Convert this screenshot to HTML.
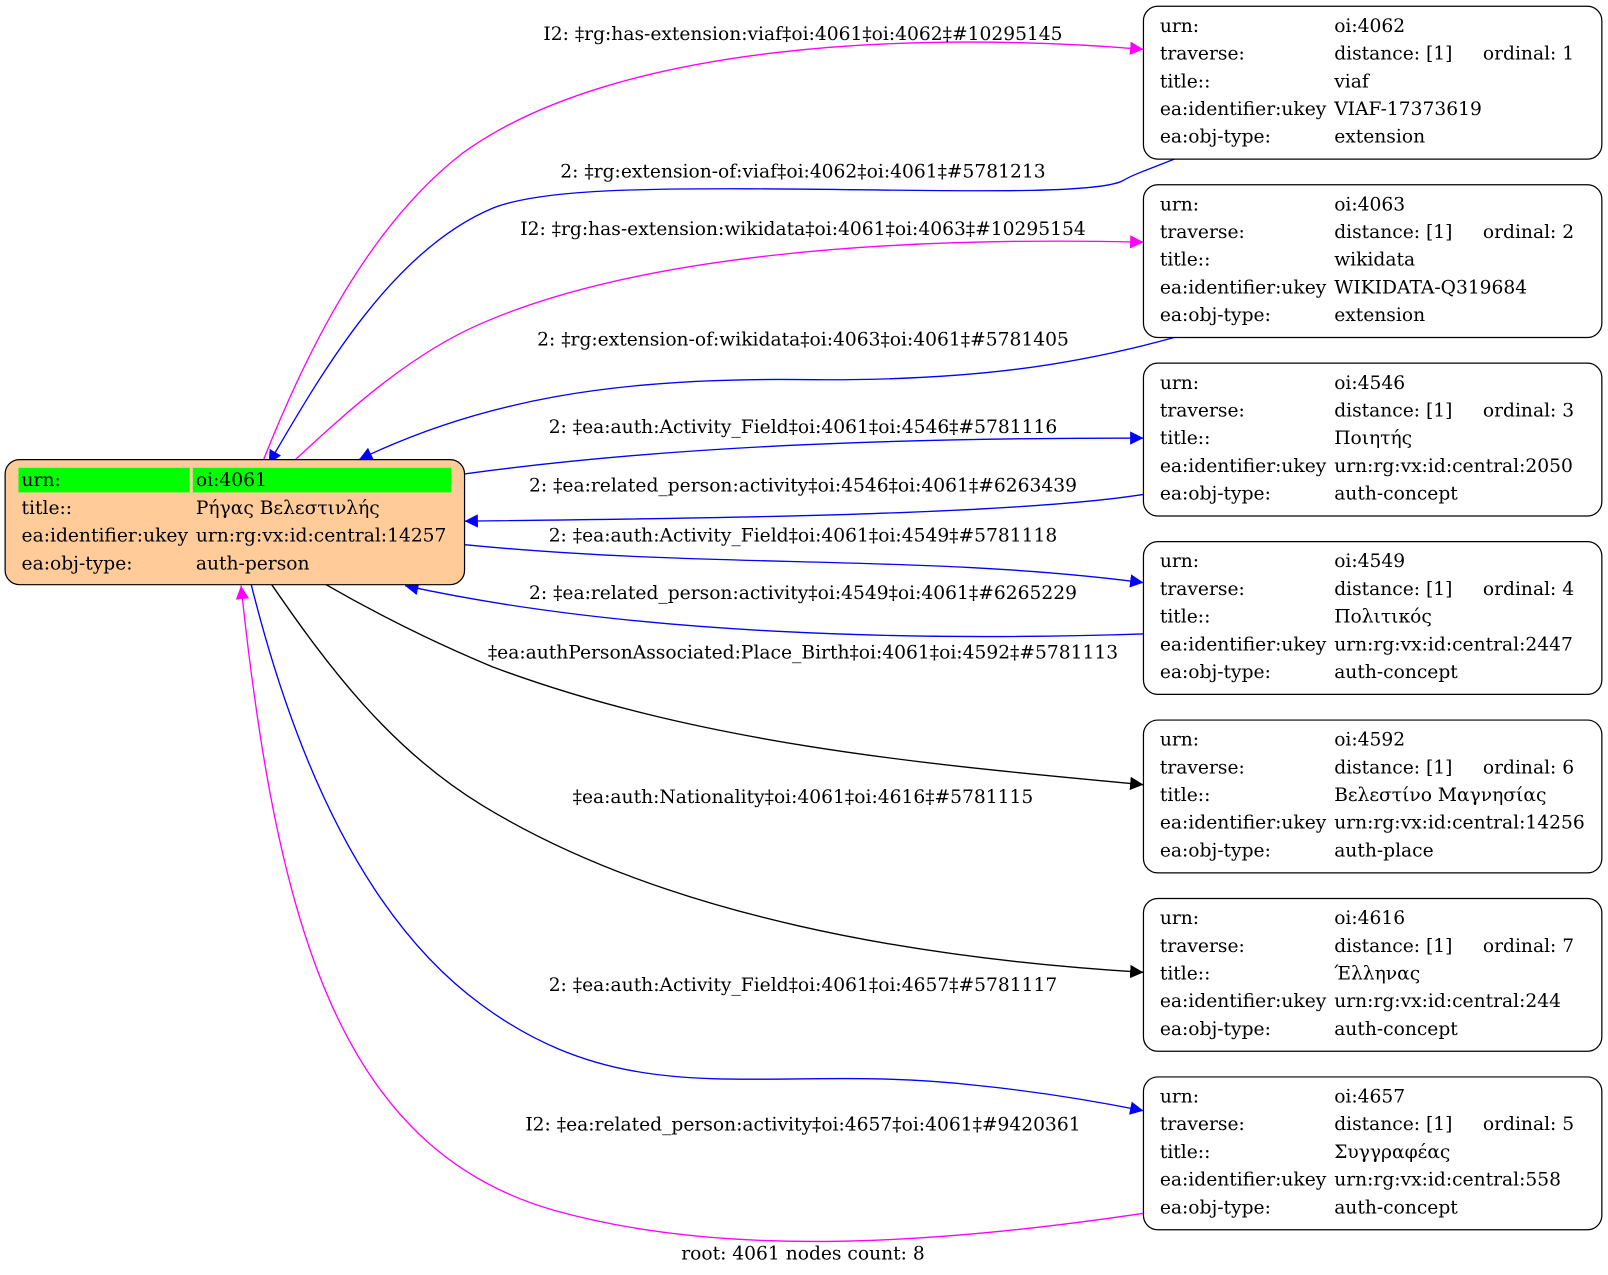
<!DOCTYPE html>
<html><head><meta charset="utf-8"><style>
html,body{margin:0;padding:0;background:#fff;}
svg{display:block;}
text{font-family:"DejaVu Serif","Liberation Serif",serif;font-size:18.2px;fill:#000;}
</style></head><body>
<svg width="1608" height="1275" viewBox="0 0 1568 1243" xmlns="http://www.w3.org/2000/svg">
<defs>
<marker id="ab" viewBox="0 0 10 10" refX="10" refY="5" markerWidth="13" markerHeight="13" markerUnits="userSpaceOnUse" orient="auto"><path d="M0,0L10,5L0,10z" fill="#0000ff"/></marker>
<marker id="am" viewBox="0 0 10 10" refX="10" refY="5" markerWidth="13" markerHeight="13" markerUnits="userSpaceOnUse" orient="auto"><path d="M0,0L10,5L0,10z" fill="#ff00ff"/></marker>
<marker id="ak" viewBox="0 0 10 10" refX="10" refY="5" markerWidth="13" markerHeight="13" markerUnits="userSpaceOnUse" orient="auto"><path d="M0,0L10,5L0,10z" fill="#000"/></marker>
</defs>
<g fill="none" stroke-width="1.3">
<path d="M257,448 C300,340 360,220 450,150 C600,40 900,30 1115,48" stroke="#ff00ff" marker-end="url(#am)"/>
<path d="M1145,155 C1120,165 1105,170 1095,176 C1060,195 800,180 620,185 C540,187 500,195 480,203 C380,245 310,370 262,452" stroke="#0000ff" marker-end="url(#ab)"/>
<path d="M288,448 C340,400 400,345 470,315 C620,250 860,230 1115,236" stroke="#ff00ff" marker-end="url(#am)"/>
<path d="M1145,329 C1050,355 950,372 780,370 C600,368 470,390 350,448" stroke="#0000ff" marker-end="url(#ab)"/>
<path d="M453,462 C650,435 870,427 1115,427" stroke="#0000ff" marker-end="url(#ab)"/>
<path d="M1115,482 C1000,500 750,505 453,508" stroke="#0000ff" marker-end="url(#ab)"/>
<path d="M453,531 C700,555 900,540 1115,568" stroke="#0000ff" marker-end="url(#ab)"/>
<path d="M1115,618 C900,625 620,620 395,571" stroke="#0000ff" marker-end="url(#ab)"/>
<path d="M318,570 C370,600 420,625 480,650 C680,725 900,745 1115,765" stroke="#000" marker-end="url(#ak)"/>
<path d="M265,570 C320,650 380,730 470,785 C650,895 900,935 1115,948" stroke="#000" marker-end="url(#ak)"/>
<path d="M245,570 C290,750 360,900 470,980 C620,1090 750,1035 950,1058 C1000,1063 1060,1072 1115,1083" stroke="#0000ff" marker-end="url(#ab)"/>
<path d="M1115,1183 C900,1215 700,1225 540,1180 C330,1120 270,900 235,571" stroke="#ff00ff" marker-end="url(#am)"/>
</g>
<g text-anchor="middle">
<text x="783" y="39">I2: ‡rg:has-extension:viaf‡oi:4061‡oi:4062‡#10295145</text>
<text x="783" y="173">2: ‡rg:extension-of:viaf‡oi:4062‡oi:4061‡#5781213</text>
<text x="783" y="229">I2: ‡rg:has-extension:wikidata‡oi:4061‡oi:4063‡#10295154</text>
<text x="783" y="337">2: ‡rg:extension-of:wikidata‡oi:4063‡oi:4061‡#5781405</text>
<text x="783" y="422">2: ‡ea:auth:Activity_Field‡oi:4061‡oi:4546‡#5781116</text>
<text x="783" y="479">2: ‡ea:related_person:activity‡oi:4546‡oi:4061‡#6263439</text>
<text x="783" y="528">2: ‡ea:auth:Activity_Field‡oi:4061‡oi:4549‡#5781118</text>
<text x="783" y="584">2: ‡ea:related_person:activity‡oi:4549‡oi:4061‡#6265229</text>
<text x="783" y="642">‡ea:authPersonAssociated:Place_Birth‡oi:4061‡oi:4592‡#5781113</text>
<text x="783" y="783">‡ea:auth:Nationality‡oi:4061‡oi:4616‡#5781115</text>
<text x="783" y="966">2: ‡ea:auth:Activity_Field‡oi:4061‡oi:4657‡#5781117</text>
<text x="783" y="1102">I2: ‡ea:related_person:activity‡oi:4657‡oi:4061‡#9420361</text>
<text x="783" y="1228">root: 4061 nodes count: 8</text>
</g>
<rect x="5" y="448" width="448" height="122" rx="14" fill="#ffcc99" stroke="#000" stroke-width="1.2"/>
<rect x="18" y="456" width="167" height="24" fill="#00ff00"/>
<rect x="188" y="456" width="252" height="24" fill="#00ff00"/>
<text x="21" y="474">urn:</text><text x="191" y="474">oi:4061</text>
<text x="21" y="501">title::</text><text x="191" y="501">Ρήγας Βελεστινλής</text>
<text x="21" y="528">ea:identifier:ukey</text><text x="191" y="528">urn:rg:vx:id:central:14257</text>
<text x="21" y="555">ea:obj-type:</text><text x="191" y="555">auth-person</text>
<g>
<rect x="1115" y="6" width="447" height="149" rx="14" fill="#fff" stroke="#000" stroke-width="1.2"/>
<text x="1131" y="31">urn:</text><text x="1301" y="31">oi:4062</text>
<text x="1131" y="58">traverse:</text><text x="1301" y="58">distance: [1]</text><text x="1446" y="58">ordinal: 1</text>
<text x="1131" y="85">title::</text><text x="1301" y="85">viaf</text>
<text x="1131" y="112">ea:identifier:ukey</text><text x="1301" y="112">VIAF-17373619</text>
<text x="1131" y="139">ea:obj-type:</text><text x="1301" y="139">extension</text>
</g>
<g transform="translate(0,174)">
<rect x="1115" y="6" width="447" height="149" rx="14" fill="#fff" stroke="#000" stroke-width="1.2"/>
<text x="1131" y="31">urn:</text><text x="1301" y="31">oi:4063</text>
<text x="1131" y="58">traverse:</text><text x="1301" y="58">distance: [1]</text><text x="1446" y="58">ordinal: 2</text>
<text x="1131" y="85">title::</text><text x="1301" y="85">wikidata</text>
<text x="1131" y="112">ea:identifier:ukey</text><text x="1301" y="112">WIKIDATA-Q319684</text>
<text x="1131" y="139">ea:obj-type:</text><text x="1301" y="139">extension</text>
</g>
<g transform="translate(0,348)">
<rect x="1115" y="6" width="447" height="149" rx="14" fill="#fff" stroke="#000" stroke-width="1.2"/>
<text x="1131" y="31">urn:</text><text x="1301" y="31">oi:4546</text>
<text x="1131" y="58">traverse:</text><text x="1301" y="58">distance: [1]</text><text x="1446" y="58">ordinal: 3</text>
<text x="1131" y="85">title::</text><text x="1301" y="85">Ποιητής</text>
<text x="1131" y="112">ea:identifier:ukey</text><text x="1301" y="112">urn:rg:vx:id:central:2050</text>
<text x="1131" y="139">ea:obj-type:</text><text x="1301" y="139">auth-concept</text>
</g>
<g transform="translate(0,522)">
<rect x="1115" y="6" width="447" height="149" rx="14" fill="#fff" stroke="#000" stroke-width="1.2"/>
<text x="1131" y="31">urn:</text><text x="1301" y="31">oi:4549</text>
<text x="1131" y="58">traverse:</text><text x="1301" y="58">distance: [1]</text><text x="1446" y="58">ordinal: 4</text>
<text x="1131" y="85">title::</text><text x="1301" y="85">Πολιτικός</text>
<text x="1131" y="112">ea:identifier:ukey</text><text x="1301" y="112">urn:rg:vx:id:central:2447</text>
<text x="1131" y="139">ea:obj-type:</text><text x="1301" y="139">auth-concept</text>
</g>
<g transform="translate(0,696)">
<rect x="1115" y="6" width="447" height="149" rx="14" fill="#fff" stroke="#000" stroke-width="1.2"/>
<text x="1131" y="31">urn:</text><text x="1301" y="31">oi:4592</text>
<text x="1131" y="58">traverse:</text><text x="1301" y="58">distance: [1]</text><text x="1446" y="58">ordinal: 6</text>
<text x="1131" y="85">title::</text><text x="1301" y="85">Βελεστίνο Μαγνησίας</text>
<text x="1131" y="112">ea:identifier:ukey</text><text x="1301" y="112">urn:rg:vx:id:central:14256</text>
<text x="1131" y="139">ea:obj-type:</text><text x="1301" y="139">auth-place</text>
</g>
<g transform="translate(0,870)">
<rect x="1115" y="6" width="447" height="149" rx="14" fill="#fff" stroke="#000" stroke-width="1.2"/>
<text x="1131" y="31">urn:</text><text x="1301" y="31">oi:4616</text>
<text x="1131" y="58">traverse:</text><text x="1301" y="58">distance: [1]</text><text x="1446" y="58">ordinal: 7</text>
<text x="1131" y="85">title::</text><text x="1301" y="85">Έλληνας</text>
<text x="1131" y="112">ea:identifier:ukey</text><text x="1301" y="112">urn:rg:vx:id:central:244</text>
<text x="1131" y="139">ea:obj-type:</text><text x="1301" y="139">auth-concept</text>
</g>
<g transform="translate(0,1044)">
<rect x="1115" y="6" width="447" height="149" rx="14" fill="#fff" stroke="#000" stroke-width="1.2"/>
<text x="1131" y="31">urn:</text><text x="1301" y="31">oi:4657</text>
<text x="1131" y="58">traverse:</text><text x="1301" y="58">distance: [1]</text><text x="1446" y="58">ordinal: 5</text>
<text x="1131" y="85">title::</text><text x="1301" y="85">Συγγραφέας</text>
<text x="1131" y="112">ea:identifier:ukey</text><text x="1301" y="112">urn:rg:vx:id:central:558</text>
<text x="1131" y="139">ea:obj-type:</text><text x="1301" y="139">auth-concept</text>
</g>
</svg>
</body></html>
